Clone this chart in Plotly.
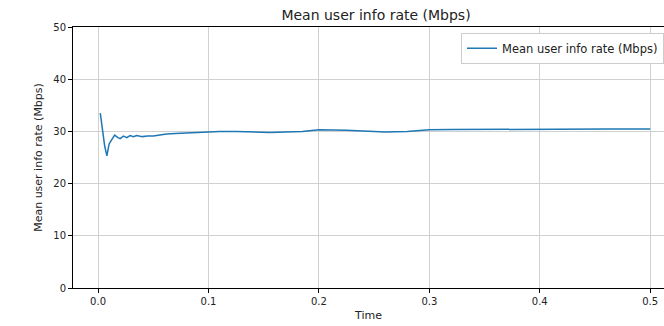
import plotly.graph_objects as go

time = [0.002, 0.004, 0.006, 0.008, 0.010, 0.012, 0.015, 0.018, 0.020, 0.023, 0.026,
        0.029, 0.032, 0.035, 0.040, 0.045, 0.050, 0.056, 0.062, 0.070, 0.080, 0.090,
        0.100, 0.110, 0.125, 0.140, 0.155, 0.170, 0.185, 0.200, 0.212, 0.225, 0.240,
        0.260, 0.280, 0.300, 0.320, 0.350, 0.380, 0.400, 0.430, 0.460, 0.500]
rate = [33.5, 30.0, 27.2, 25.3, 27.6, 28.3, 29.3, 28.8, 28.6, 29.1, 28.8,
        29.2, 29.0, 29.2, 29.0, 29.1, 29.1, 29.3, 29.5, 29.6, 29.7, 29.9,
        30.0, 30.0, 30.0, 29.9, 29.8, 29.9, 30.0, 30.3, 30.3, 30.2, 30.1,
        29.9, 30.0, 30.3, 30.35, 30.4, 30.45, 30.45, 30.5, 30.45, 30.45]

series_name = "Mean user info rate (Mbps)"
x_ticks = [0.0, 0.1, 0.2, 0.3, 0.4, 0.5]
x_labels = ["0.0", "0.1", "0.2", "0.3", "0.4", "0.5"]
y_ticks = [0, 10, 20, 30, 40, 50]

font = "DejaVu Sans"
txt = "#222222"

fig = go.Figure()
fig.add_trace(go.Scatter(x=time, y=rate, mode="lines", name=series_name,
                         line=dict(color="#1f77b4", width=1.5)))

fig.update_layout(
    width=664, height=326,
    margin=dict(l=73, r=0, t=27, b=38),
    paper_bgcolor="white", plot_bgcolor="white",
    font=dict(family=font, size=10, color=txt),
    title=dict(text="Mean user info rate (Mbps)", x=376 / 664, xanchor="center",
               y=1 - 15 / 326, yanchor="middle", yref="container",
               font=dict(family=font, size=14, color=txt)),
    showlegend=True,
    legend=dict(x=1.0, xanchor="right", y=0.978, yanchor="top",
                bgcolor="white", bordercolor="#cccccc", borderwidth=1,
                font=dict(family=font, size=11.5, color=txt)),
)
fig.update_xaxes(
    range=[-0.0227, 0.5125], tickvals=x_ticks, ticktext=x_labels,
    showgrid=True, gridcolor="#d0d0d0", gridwidth=1, zeroline=False,
    showline=True, linecolor="black", linewidth=1, mirror=True,
    ticks="outside", ticklen=4, tickcolor="black",
    title=dict(text="Time", font=dict(family=font, size=11, color=txt), standoff=5),
)
fig.update_yaxes(
    range=[0, 50], tickvals=y_ticks,
    showgrid=True, gridcolor="#d0d0d0", gridwidth=1, zeroline=False,
    showline=True, linecolor="black", linewidth=1,
    ticks="outside", ticklen=4, tickcolor="black",
    title=dict(text="Mean user info rate (Mbps)", font=dict(family=font, size=11, color=txt), standoff=8),
)

fig.write_html("out.html")
